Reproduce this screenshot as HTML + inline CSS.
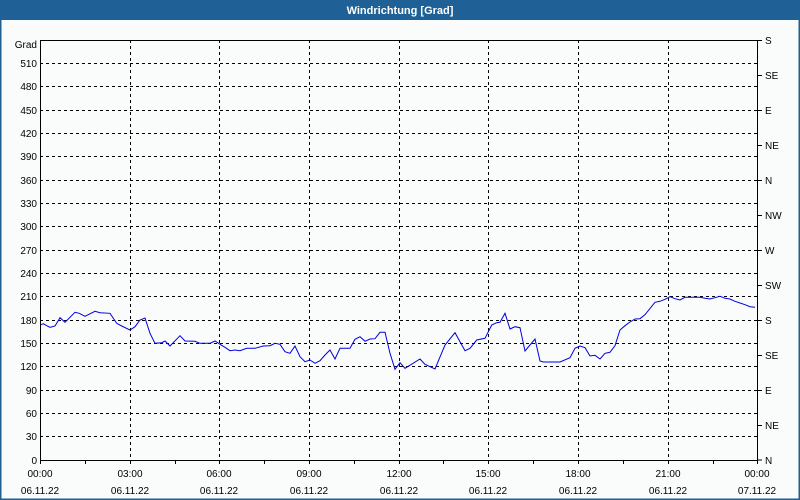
<!DOCTYPE html>
<html><head><meta charset="utf-8"><style>
body{margin:0;width:800px;height:500px;overflow:hidden;background:#fff;}
svg{display:block;font-family:"Liberation Sans",Tahoma,sans-serif;}
</style></head><body>
<svg width="800" height="500" viewBox="0 0 800 500">
<rect x="0" y="0" width="800" height="500" fill="#fafcfc"/>
<rect x="0.5" y="0.5" width="799" height="499" fill="none" stroke="#1f5f94" stroke-width="2"/>
<rect x="0" y="0" width="800" height="20" fill="#1f6196"/>
<text x="400" y="14" fill="#fff" font-size="11" text-anchor="middle" font-weight="bold">Windrichtung [Grad]</text>
<g stroke="#000" stroke-width="1" stroke-dasharray="3,3" fill="none">
<path d="M40 63.5H758M40 86.5H758M40 110.5H758M40 133.5H758M40 156.5H758M40 180.5H758M40 203.5H758M40 226.5H758M40 250.5H758M40 273.5H758M40 296.5H758M40 320.5H758M40 343.5H758M40 366.5H758M40 390.5H758M40 413.5H758M40 436.5H758"/>
<path d="M130.5 40V460M219.5 40V460M309.5 40V460M399.5 40V460M488.5 40V460M578.5 40V460M668.5 40V460"/>
</g>
<path d="M40.5 40V460.5H758M40 40.5H758M757.5 40V460" stroke="#000" fill="none"/>
<g stroke="#000"><path d="M85.5 460v4M130.5 460v4M175.5 460v4M219.5 460v4M264.5 460v4M309.5 460v4M354.5 460v4M399.5 460v4M443.5 460v4M488.5 460v4M533.5 460v4M578.5 460v4M623.5 460v4M668.5 460v4M713.5 460v4M757.5 460v4M40.5 460v4"/>
<path d="M758 40.5h4M758 75.5h4M758 110.5h4M758 145.5h4M758 180.5h4M758 215.5h4M758 250.5h4M758 285.5h4M758 320.5h4M758 355.5h4M758 390.5h4M758 425.5h4M758 460h4"/></g>
<g font-size="10" fill="#000" text-anchor="end">
<text x="37" y="48">Grad</text>
<text x="37" y="67">510</text><text x="37" y="90">480</text><text x="37" y="114">450</text><text x="37" y="137">420</text><text x="37" y="160">390</text><text x="37" y="184">360</text><text x="37" y="207">330</text><text x="37" y="230">300</text><text x="37" y="254">270</text><text x="37" y="277">240</text><text x="37" y="300">210</text><text x="37" y="324">180</text><text x="37" y="347">150</text><text x="37" y="370">120</text><text x="37" y="394">90</text><text x="37" y="417">60</text><text x="37" y="440">30</text><text x="37" y="464">0</text>
</g>
<g font-size="10" fill="#000">
<text x="765" y="44">S</text><text x="765" y="79">SE</text><text x="765" y="114">E</text><text x="765" y="149">NE</text><text x="765" y="184">N</text><text x="765" y="219">NW</text><text x="765" y="254">W</text><text x="765" y="289">SW</text><text x="765" y="324">S</text><text x="765" y="359">SE</text><text x="765" y="394">E</text><text x="765" y="429">NE</text><text x="765" y="464">N</text>
</g>
<g font-size="10" fill="#000" text-anchor="middle">
<text x="40" y="477">00:00</text><text x="40" y="494">06.11.22</text>
<text x="130" y="477">03:00</text><text x="130" y="494">06.11.22</text>
<text x="219" y="477">06:00</text><text x="219" y="494">06.11.22</text>
<text x="309" y="477">09:00</text><text x="309" y="494">06.11.22</text>
<text x="399" y="477">12:00</text><text x="399" y="494">06.11.22</text>
<text x="488" y="477">15:00</text><text x="488" y="494">06.11.22</text>
<text x="578" y="477">18:00</text><text x="578" y="494">06.11.22</text>
<text x="668" y="477">21:00</text><text x="668" y="494">06.11.22</text>
<text x="757" y="477">00:00</text><text x="757" y="494">07.11.22</text>
</g>
<polyline fill="none" stroke="#0000e0" stroke-width="1" points="41,324.7 43.3,323.7 46.7,325.7 50,327.3 55,326 60,317.7 65,322.3 75,312.3 79.3,313.3 85,316.3 95,311.3 100,312.7 110,313.3 116.7,323.3 121.7,326 130,330 135,326.7 140,320 145,318 150,333.3 155,343.3 161.7,342.7 165,341 170,346 180,335.7 185,341 195,341.3 200,343.3 210,343.3 215,341 220,344.3 225,347.3 230,350.7 235,350 240,350.7 246.7,348.3 255,348.3 263.3,346 270,345.7 275,343.3 280,344.3 285,351.7 290,353.3 295,346 300,356.7 305,361.7 310,360 315,363.3 320,360.7 325,355 330,350 335,359 340,348.3 350,348.3 355,339.3 360,336.7 365,341.3 370,339 375,338.7 380,332.3 385,332.3 390,353.3 395,369.3 400,362.7 405,368.3 420,359 425,364.3 435,369 445,345 455,332.7 465,350.7 470,348.3 476.7,340 485,338.3 491.7,325 496.7,322.7 500,322.3 505,313.3 510,329 515,326.7 520,327.7 525,351 535,339 540,361 543.3,362 560,362 570,357.7 575,348.3 580,346 585,347.7 590,356 595,355.3 600,359 605,353.3 610,352.3 615,345.7 620,330 625,325.7 630,322 635,319 640,318.7 645,314.7 655,302.3 660,301.3 665,299.3 670,296.7 675,298.7 680,300 685,297.3 700,297.3 705,298.3 710,299 715,297.7 720,296.3 725,298.3 730,299 735,301.3 740,303 745,304.7 750,306.7 755,307.3"/>
</svg>
</body></html>
